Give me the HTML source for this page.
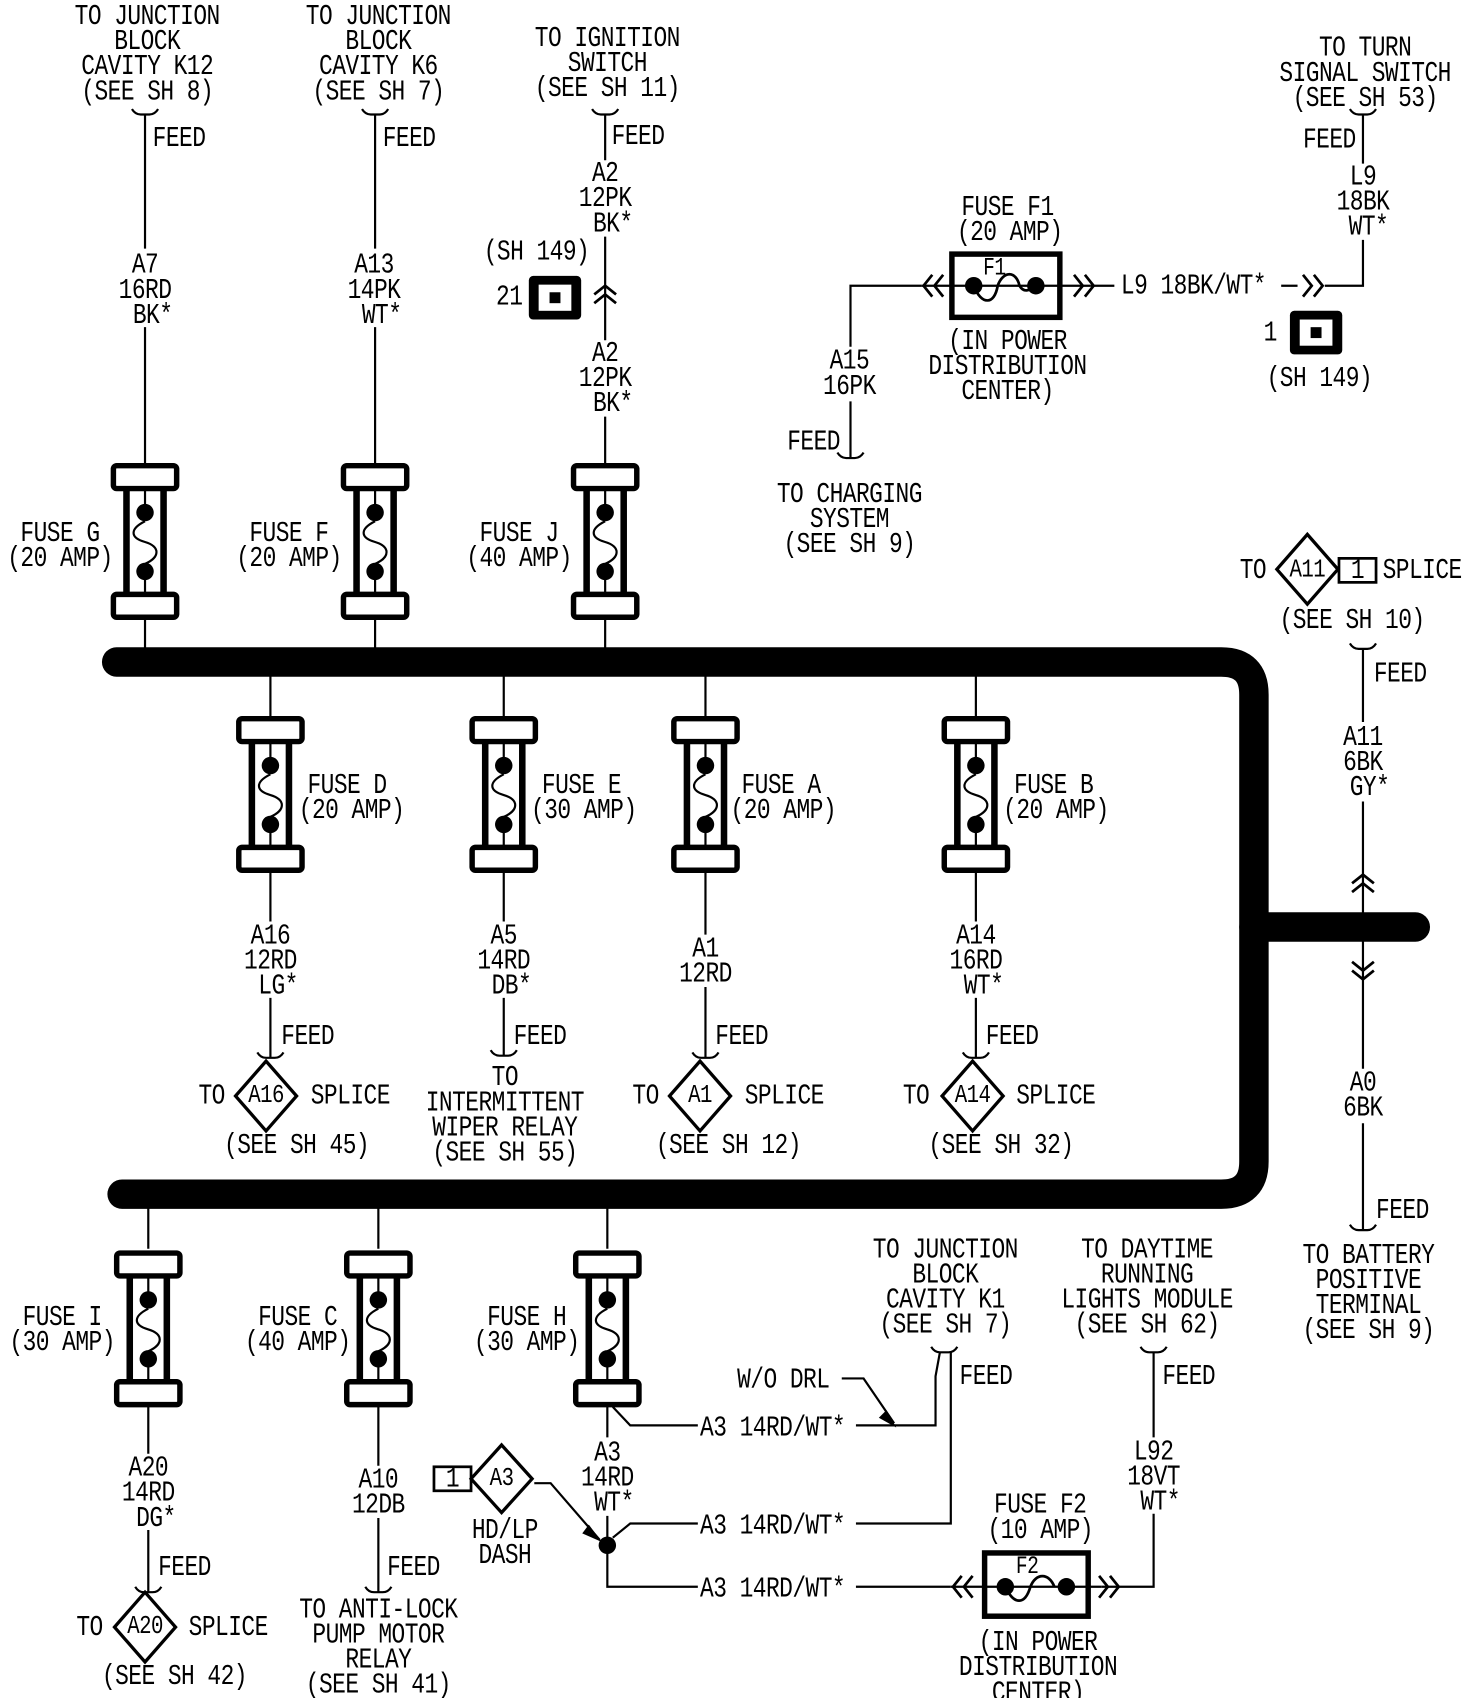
<!DOCTYPE html>
<html><head><meta charset="utf-8"><style>
html,body{margin:0;padding:0;background:#fff}
svg{display:block}
text{font-family:"Liberation Mono","DejaVu Sans Mono",monospace;font-size:21px;fill:#000;letter-spacing:-0.5px;dominant-baseline:central;transform-box:fill-box;transform-origin:center;transform:scaleY(1.25)}
.m{text-anchor:middle}
</style></head><body>
<svg width="1472" height="1698" viewBox="0 0 1350 1557" preserveAspectRatio="none" xmlns="http://www.w3.org/2000/svg">
<defs>
<g id="fuse">
<rect x="-29" y="2" width="58" height="21" rx="3" fill="#fff" stroke="#000" stroke-width="5"/>
<rect x="-29" y="120" width="58" height="21" rx="3" fill="#fff" stroke="#000" stroke-width="5"/>
<line x1="-17" y1="23" x2="-17" y2="120" stroke="#000" stroke-width="6"/>
<line x1="17" y1="23" x2="17" y2="120" stroke="#000" stroke-width="6"/>
<line x1="0" y1="23" x2="0" y2="40" stroke="#000" stroke-width="2"/>
<circle cx="0" cy="45" r="8"/>
<path d="M0,53 C-14,60 -14,68 0,72 C14,76 14,86 0,92" fill="none" stroke="#000" stroke-width="2"/>
<circle cx="0" cy="99" r="8"/>
<line x1="0" y1="104" x2="0" y2="120" stroke="#000" stroke-width="2"/>
</g>
<g id="hook"><path d="M-12,-5 Q-9,0 -4,0 L4,0 Q9,0 12,-5" fill="none" stroke="#000" stroke-width="2"/></g>
<g id="conn"><rect x="0" y="0" width="48" height="40" rx="4"/><rect x="9" y="8" width="30" height="24" fill="#fff"/><rect x="19" y="15" width="10" height="10"/></g>
</defs>

<!-- buses -->
<g fill="none" stroke="#000" stroke-width="27" stroke-linecap="round">
<path d="M107,607 H1120 Q1150,607 1150,637 V1065 Q1150,1095 1120,1095 H112"/>
<path d="M1150,850 H1298"/>
</g>

<g stroke="#000" stroke-width="2" fill="none">
<!-- top row wires -->
<path d="M133,105 V228 M133,300 V425 M133,568 V597"/>
<path d="M344,105 V228 M344,300 V425 M344,568 V597"/>
<path d="M555,105 V147 M555,217 V312 M555,382 V425 M555,568 V597"/>
<!-- middle row -->
<path d="M248,617 V657 M248,800 V845 M248,915 V970"/>
<path d="M462,617 V657 M462,800 V845 M462,915 V968"/>
<path d="M647,617 V657 M647,800 V857 M647,905 V970"/>
<path d="M895,617 V657 M895,800 V845 M895,915 V970"/>
<!-- bottom row -->
<path d="M136,1105 V1145 M136,1288 V1333 M136,1403 V1460"/>
<path d="M347,1105 V1145 M347,1288 V1344 M347,1392 V1460"/>
<path d="M557,1105 V1145 M557,1288 V1318 M557,1390 V1455 H640"/>
<path d="M562,1290 L578,1307 H640"/>
<path d="M785,1307 H858 V1262 L862,1240"/>
<path d="M562,1410 L578,1397 H640"/>
<path d="M785,1397 H872 V1240"/>
<path d="M772,1264 H792 L820,1305"/>
<path d="M785,1455 H872"/>
<path d="M1010,1455 H1058 V1388 M1058,1318 V1240"/>
<path d="M490,1360 L505,1360 L550,1412"/>
<!-- top right -->
<path d="M1250,105 V150 M1250,220 V262 H1215"/>
<path d="M1000,262 H1022"/><path d="M1175,262 H1190"/>
<path d="M845,262 H780 V318 M780,368 V420"/>
<path d="M1250,595 V662 M1250,735 V980 M1250,1030 V1128"/>
</g>
<!-- arrowheads/chevrons -->
<g stroke="#000" stroke-width="2.5" fill="none">
<path d="M545,270 L555,262 L565,270 M545,278 L555,270 L565,278"/>
<path d="M1240,810 L1250,802 L1260,810 M1240,818 L1250,810 L1260,818"/>
<path d="M1240,882 L1250,890 L1260,882 M1240,890 L1250,898 L1260,890"/>
<path d="M855,252 L847,262 L855,272 M865,252 L857,262 L865,272"/>
<path d="M985,252 L993,262 L985,272 M995,252 L1003,262 L995,272"/>
<path d="M1195,252 L1203,262 L1195,272 M1205,252 L1213,262 L1205,272"/>
<path d="M882,1445 L874,1455 L882,1465 M892,1445 L884,1455 L892,1465"/>
<path d="M1008,1445 L1016,1455 L1008,1465 M1018,1445 L1026,1455 L1018,1465"/>
</g>
<path d="M813,1293 L822,1309 L806,1300 Z"/>
<path d="M540,1398 L552,1414 L534,1406 Z"/>
<circle cx="557" cy="1417" r="8"/>

<!-- fuses -->
<use href="#fuse" x="133" y="425"/><use href="#fuse" x="344" y="425"/><use href="#fuse" x="555" y="425"/>
<use href="#fuse" x="248" y="657"/><use href="#fuse" x="462" y="657"/><use href="#fuse" x="647" y="657"/><use href="#fuse" x="895" y="657"/>
<use href="#fuse" x="136" y="1147"/><use href="#fuse" x="347" y="1147"/><use href="#fuse" x="557" y="1147"/>

<!-- feed hooks -->
<use href="#hook" x="133" y="105"/><use href="#hook" x="344" y="105"/><use href="#hook" x="555" y="105"/>
<use href="#hook" x="1250" y="105"/><use href="#hook" x="780" y="420"/><use href="#hook" x="1250" y="595"/>
<use href="#hook" x="248" y="970"/><use href="#hook" x="462" y="968"/><use href="#hook" x="647" y="970"/><use href="#hook" x="895" y="970"/>
<use href="#hook" x="136" y="1460"/><use href="#hook" x="347" y="1460"/><use href="#hook" x="1250" y="1128"/>
<use href="#hook" x="866" y="1240"/><use href="#hook" x="1058" y="1240"/>

<!-- F1/F2 boxes -->
<g stroke="#000" fill="none">
<rect x="873" y="233" width="99" height="58" stroke-width="5"/>
<path d="M845,262 H1000" stroke-width="2"/>
<path d="M893,262 C900,280 912,280 915,262 C920,248 932,248 935,262 C940,270 945,265 950,262" stroke-width="2.5"/>
<rect x="903" y="1424" width="95" height="58" stroke-width="5"/>
<path d="M872,1455 H1010" stroke-width="2"/>
<path d="M922,1455 C930,1472 940,1472 945,1455 C950,1442 962,1442 967,1455" stroke-width="2.5"/>
</g>
<circle cx="893" cy="262" r="8"/><circle cx="950" cy="262" r="8"/>
<circle cx="922" cy="1455" r="8"/><circle cx="978" cy="1455" r="8"/>

<!-- connectors -->
<use href="#conn" x="485" y="253"/><use href="#conn" x="1183" y="285"/>

<!-- diamonds -->
<g fill="#fff" stroke="#000" stroke-width="3">
<rect x="1228" y="512" width="34" height="22" stroke-width="2.5"/>
<polygon points="1171,522 1199,490 1227,522 1199,554"/>
<polygon points="216,1005 244,973 272,1005 244,1037"/>
<polygon points="614,1005 642,973 670,1005 642,1037"/>
<polygon points="864,1005 892,973 920,1005 892,1037"/>
<polygon points="105,1492 133,1460 161,1492 133,1524"/>
<rect x="398" y="1345" width="34" height="22" stroke-width="2.5"/>
<polygon points="432,1356 460,1325 488,1356 460,1387"/>
</g>

<!-- texts -->
<text class="m" x="135" y="15">TO JUNCTION</text><text class="m" x="135" y="38">BLOCK</text><text class="m" x="135" y="61">CAVITY K12</text><text class="m" x="135" y="84">(SEE SH 8)</text>
<text class="m" x="347" y="15">TO JUNCTION</text><text class="m" x="347" y="38">BLOCK</text><text class="m" x="347" y="61">CAVITY K6</text><text class="m" x="347" y="84">(SEE SH 7)</text>
<text class="m" x="557" y="35">TO IGNITION</text><text class="m" x="557" y="58">SWITCH</text><text class="m" x="557" y="81">(SEE SH 11)</text>
<text class="m" x="1252" y="44">TO TURN</text><text class="m" x="1252" y="67">SIGNAL SWITCH</text><text class="m" x="1252" y="90">(SEE SH 53)</text>
<text x="140" y="127">FEED</text><text x="351" y="127">FEED</text><text x="561" y="125">FEED</text><text x="1195" y="128">FEED</text>
<text class="m" x="133" y="243">A7</text><text class="m" x="133" y="266">16RD</text><text class="m" x="140" y="289">BK*</text>
<text class="m" x="343" y="243">A13</text><text class="m" x="343" y="266">14PK</text><text class="m" x="350" y="289">WT*</text>
<text class="m" x="555" y="159">A2</text><text class="m" x="555" y="182">12PK</text><text class="m" x="562" y="205">BK*</text>
<text class="m" x="492" y="231">(SH 149)</text><text class="m" x="467" y="272">21</text>
<text class="m" x="555" y="324">A2</text><text class="m" x="555" y="347">12PK</text><text class="m" x="562" y="370">BK*</text>
<text class="m" x="1250" y="162">L9</text><text class="m" x="1250" y="185">18BK</text><text class="m" x="1255" y="208">WT*</text>
<text x="1028" y="262">L9 18BK/WT*</text>
<text class="m" x="924" y="190">FUSE F1</text><text class="m" x="926" y="213">(20 AMP)</text>
<text class="m" x="912" y="246" style="font-size:18px">F1</text>
<text class="m" x="924" y="313">(IN POWER</text><text class="m" x="924" y="336">DISTRIBUTION</text><text class="m" x="924" y="359">CENTER)</text>
<text class="m" x="1165" y="305">1</text><text class="m" x="1210" y="347">(SH 149)</text>
<text class="m" x="779" y="331">A15</text><text class="m" x="779" y="354">16PK</text>
<text x="722" y="405">FEED</text>
<text class="m" x="779" y="453">TO CHARGING</text><text class="m" x="779" y="476">SYSTEM</text><text class="m" x="779" y="499">(SEE SH 9)</text>
<text class="m" x="55" y="489">FUSE G</text><text class="m" x="55" y="512">(20 AMP)</text>
<text class="m" x="265" y="489">FUSE F</text><text class="m" x="265" y="512">(20 AMP)</text>
<text class="m" x="476" y="489">FUSE J</text><text class="m" x="476" y="512">(40 AMP)</text>
<text x="1137" y="523">TO</text><text class="m" x="1199" y="523" style="font-size:19px">A11</text><text class="m" x="1245" y="523">1</text><text x="1268" y="523">SPLICE</text>
<text class="m" x="1240" y="569">(SEE SH 10)</text>
<text x="1260" y="618">FEED</text>
<text class="m" x="1250" y="676">A11</text><text class="m" x="1250" y="699">6BK</text><text class="m" x="1256" y="722">GY*</text>
<text class="m" x="1250" y="993">A0</text><text class="m" x="1250" y="1016">6BK</text>
<text x="1262" y="1110">FEED</text>
<text class="m" x="1255" y="1151">TO BATTERY</text><text class="m" x="1255" y="1174">POSITIVE</text><text class="m" x="1255" y="1197">TERMINAL</text><text class="m" x="1255" y="1220">(SEE SH 9)</text>

<text x="282" y="720">FUSE D</text><text x="274" y="743">(20 AMP)</text>
<text x="497" y="720">FUSE E</text><text x="487" y="743">(30 AMP)</text>
<text x="680" y="720">FUSE A</text><text x="670" y="743">(20 AMP)</text>
<text x="930" y="720">FUSE B</text><text x="920" y="743">(20 AMP)</text>
<text class="m" x="248" y="858">A16</text><text class="m" x="248" y="881">12RD</text><text class="m" x="255" y="904">LG*</text>
<text class="m" x="462" y="858">A5</text><text class="m" x="462" y="881">14RD</text><text class="m" x="469" y="904">DB*</text>
<text class="m" x="647" y="870">A1</text><text class="m" x="647" y="893">12RD</text>
<text class="m" x="895" y="858">A14</text><text class="m" x="895" y="881">16RD</text><text class="m" x="902" y="904">WT*</text>
<text x="258" y="950">FEED</text><text x="471" y="950">FEED</text><text x="656" y="950">FEED</text><text x="904" y="950">FEED</text>
<text x="182" y="1005">TO</text><text class="m" x="244" y="1005" style="font-size:19px">A16</text><text x="285" y="1005">SPLICE</text><text class="m" x="272" y="1050">(SEE SH 45)</text>
<text class="m" x="463" y="988">TO</text><text class="m" x="463" y="1011">INTERMITTENT</text><text class="m" x="463" y="1034">WIPER RELAY</text><text class="m" x="463" y="1057">(SEE SH 55)</text>
<text x="580" y="1005">TO</text><text class="m" x="642" y="1005" style="font-size:19px">A1</text><text x="683" y="1005">SPLICE</text><text class="m" x="668" y="1050">(SEE SH 12)</text>
<text x="828" y="1005">TO</text><text class="m" x="892" y="1005" style="font-size:19px">A14</text><text x="932" y="1005">SPLICE</text><text class="m" x="918" y="1050">(SEE SH 32)</text>

<text class="m" x="57" y="1208">FUSE I</text><text class="m" x="57" y="1231">(30 AMP)</text>
<text class="m" x="273" y="1208">FUSE C</text><text class="m" x="273" y="1231">(40 AMP)</text>
<text class="m" x="483" y="1208">FUSE H</text><text class="m" x="483" y="1231">(30 AMP)</text>
<text class="m" x="136" y="1346">A20</text><text class="m" x="136" y="1369">14RD</text><text class="m" x="143" y="1392">DG*</text>
<text class="m" x="347" y="1357">A10</text><text class="m" x="347" y="1380">12DB</text>
<text x="145" y="1437">FEED</text><text x="355" y="1437">FEED</text>
<text x="70" y="1492">TO</text><text class="m" x="133" y="1492" style="font-size:19px">A20</text><text x="173" y="1492">SPLICE</text><text class="m" x="160" y="1537">(SEE SH 42)</text>
<text class="m" x="347" y="1476">TO ANTI-LOCK</text><text class="m" x="347" y="1499">PUMP MOTOR</text><text class="m" x="347" y="1522">RELAY</text><text class="m" x="347" y="1545">(SEE SH 41)</text>
<text class="m" x="557" y="1332">A3</text><text class="m" x="557" y="1355">14RD</text><text class="m" x="563" y="1378">WT*</text>
<text class="m" x="415" y="1356">1</text><text class="m" x="460" y="1356" style="font-size:19px">A3</text>
<text class="m" x="463" y="1403">HD/LP</text><text class="m" x="463" y="1426">DASH</text>
<text x="642" y="1309">A3 14RD/WT*</text><text x="642" y="1399">A3 14RD/WT*</text><text x="642" y="1457">A3 14RD/WT*</text>
<text x="676" y="1265">W/O DRL</text>
<text x="880" y="1262">FEED</text><text x="1066" y="1262">FEED</text>
<text class="m" x="867" y="1146">TO JUNCTION</text><text class="m" x="867" y="1169">BLOCK</text><text class="m" x="867" y="1192">CAVITY K1</text><text class="m" x="867" y="1215">(SEE SH 7)</text>
<text class="m" x="1052" y="1146">TO DAYTIME</text><text class="m" x="1052" y="1169">RUNNING</text><text class="m" x="1052" y="1192">LIGHTS MODULE</text><text class="m" x="1052" y="1215">(SEE SH 62)</text>
<text class="m" x="1058" y="1331">L92</text><text class="m" x="1058" y="1354">18VT</text><text class="m" x="1064" y="1377">WT*</text>
<text class="m" x="954" y="1380">FUSE F2</text><text class="m" x="954" y="1403">(10 AMP)</text>
<text class="m" x="942" y="1437" style="font-size:18px">F2</text>
<text class="m" x="952" y="1506">(IN POWER</text><text class="m" x="952" y="1529">DISTRIBUTION</text><text class="m" x="952" y="1552">CENTER)</text>
</svg>
</body></html>
